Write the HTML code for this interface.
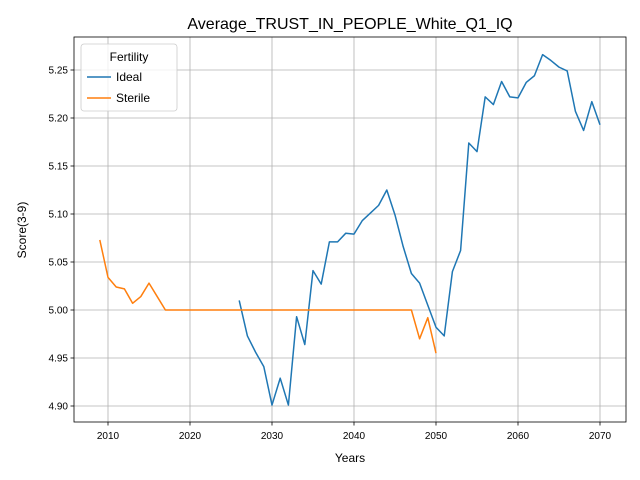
<!DOCTYPE html>
<html><head><meta charset="utf-8"><style>body{margin:0;background:#fff}svg{display:block;font-family:"Liberation Sans","DejaVu Sans",sans-serif}</style></head>
<body>
<svg id="chart" width="640" height="480"></svg>
<script>
const idealYears=[2026,2027,2028,2029,2030,2031,2032,2033,2034,2035,2036,2037,2038,2039,2040,2041,2042,2043,2044,2045,2046,2047,2048,2049,2050,2051,2052,2053,2054,2055,2056,2057,2058,2059,2060,2061,2062,2063,2064,2065,2066,2067,2068,2069,2070];
const idealValues=[5.010,4.973,4.956,4.941,4.901,4.929,4.901,4.993,4.964,5.041,5.027,5.071,5.071,5.080,5.079,5.093,5.101,5.109,5.125,5.099,5.066,5.038,5.028,5.005,4.982,4.973,5.040,5.062,5.174,5.165,5.222,5.214,5.238,5.222,5.221,5.237,5.244,5.266,5.260,5.253,5.249,5.207,5.187,5.217,5.193];
const sterileYears=[2009,2010,2011,2012,2013,2014,2015,2016,2017,2018,2019,2020,2021,2022,2023,2024,2025,2026,2027,2028,2029,2030,2031,2032,2033,2034,2035,2036,2037,2038,2039,2040,2041,2042,2043,2044,2045,2046,2047,2048,2049,2050];
const sterileValues=[5.073,5.034,5.024,5.022,5.007,5.014,5.028,5.014,5.000,5.000,5.000,5.000,5.000,5.000,5.000,5.000,5.000,5.000,5.000,5.000,5.000,5.000,5.000,5.000,5.000,5.000,5.000,5.000,5.000,5.000,5.000,5.000,5.000,5.000,5.000,5.000,5.000,5.000,5.000,4.970,4.992,4.955];
const xTicks=[2010,2020,2030,2040,2050,2060,2070];
const yTicks=[4.90,4.95,5.00,5.05,5.10,5.15,5.20,5.25];

const NS='http://www.w3.org/2000/svg';
const svg=document.getElementById('chart');
const L=74,R=626,T=37,B=422;
const xs=v=>108+(v-2010)*8.2;
const ys=v=>70+(5.25-v)*960;
function mk(tag,attrs,parent){const e=document.createElementNS(NS,tag);for(const k in attrs)e.setAttribute(k,attrs[k]);(parent||svg).appendChild(e);return e;}
const grid=mk('g',{});


xTicks.forEach(t=>{
  const x=xs(t);
  mk('line',{x1:x,x2:x,y1:T,y2:B,stroke:'#b0b0b0','stroke-width':0.8},grid);
  mk('line',{x1:x,x2:x,y1:B,y2:B+3.5,stroke:'#000','stroke-width':0.8});
  const tx=mk('text',{x:x,y:B+17,'text-anchor':'middle','font-size':10,fill:'#000'});
  tx.textContent=t;
  
  
});
yTicks.forEach(t=>{
  const y=ys(t);
  mk('line',{x1:L,x2:R,y1:y,y2:y,stroke:'#b0b0b0','stroke-width':0.8},grid);
  mk('line',{x1:L-3.5,x2:L,y1:y,y2:y,stroke:'#000','stroke-width':0.8});
  const tx=mk('text',{x:L-6,y:y+3.6,'text-anchor':'end','font-size':10,fill:'#000'});
  tx.textContent=t.toFixed(2);
  
  
});
function line(xv,yv,color,name){
  const p=mk('polyline',{points:xv.map((x,i)=>xs(x)+','+ys(yv[i])).join(' '),fill:'none',stroke:color,'stroke-width':1.5,'stroke-linejoin':'round'});
  
  
}
line(idealYears,idealValues,'#1f77b4','ideal-line');
line(sterileYears,sterileValues,'#ff7f0e','sterile-line');
const frame=mk('rect',{x:L,y:T,width:R-L,height:B-T,fill:'none',stroke:'#000','stroke-width':0.8});


</script>
<svg width="640" height="480" style="position:absolute;left:0;top:0">
<text x="350" y="29" text-anchor="middle" font-size="16">Average_TRUST_IN_PEOPLE_White_Q1_IQ</text>
<text x="350" y="462" text-anchor="middle" font-size="12">Years</text>
<text x="26" y="230" text-anchor="middle" font-size="12" transform="rotate(-90 26 230)">Score(3-9)</text>
<g>
<rect x="81" y="44" width="96" height="67" rx="3" fill="#fff" fill-opacity="0.8" stroke="#ccc" stroke-width="0.8"/>
<text x="129" y="61" text-anchor="middle" font-size="12">Fertility</text>
<line x1="87" x2="111" y1="77" y2="77" stroke="#1f77b4" stroke-width="1.5"/>
<text x="116" y="81" font-size="12">Ideal</text>
<line x1="87" x2="111" y1="98" y2="98" stroke="#ff7f0e" stroke-width="1.5"/>
<text x="116" y="102" font-size="12">Sterile</text>
</g>
</svg>
</body></html>
